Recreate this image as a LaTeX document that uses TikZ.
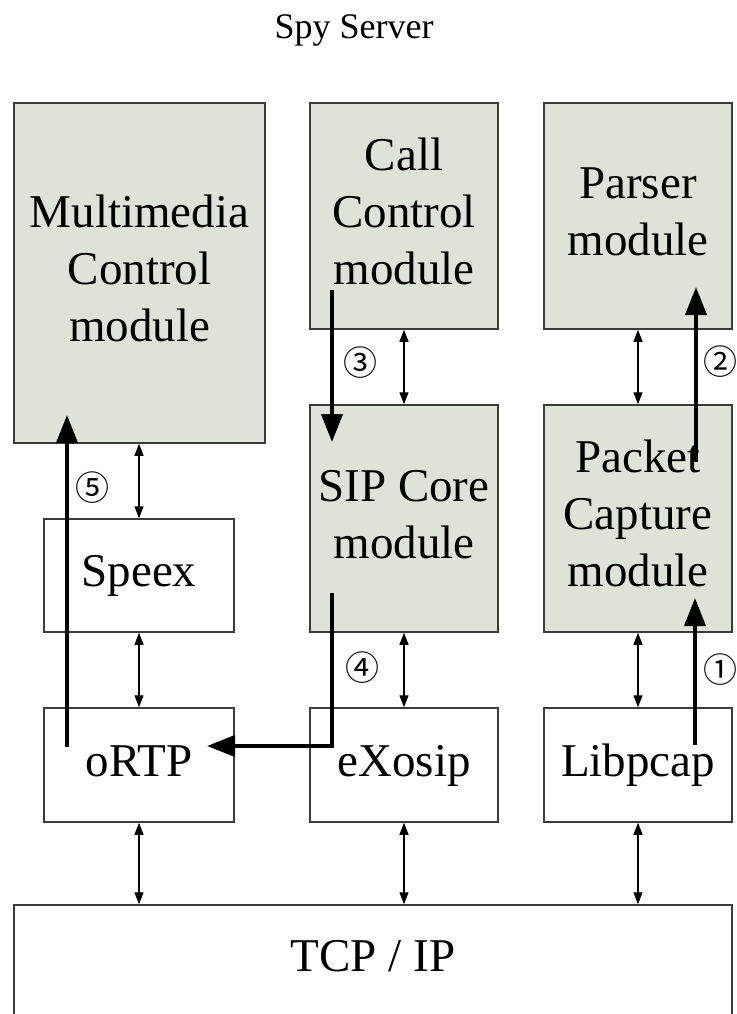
\documentclass[tikz,border=0pt]{standalone}
\usepackage{fontspec}
\setmainfont{Liberation Serif}
\newfontfamily\circfont{Noto Sans CJK SC}
\usetikzlibrary{arrows.meta}
\definecolor{modfill}{RGB}{221,227,214}
\definecolor{edgegray}{RGB}{60,60,60}
\begin{document}
\begin{tikzpicture}[x=1pt,y=-1pt,
  modbox/.style={draw=edgegray,line width=1.5pt,fill=modfill,inner sep=0pt,align=center,
    font=\fontsize{47}{57}\selectfont},
  libbox/.style={draw=edgegray,line width=1.5pt,fill=white,inner sep=0pt,align=center,
    font=\fontsize{47}{57}\selectfont},
  bi/.style={line width=1.2pt,{Triangle[length=12pt,width=9pt]}-{Triangle[length=12pt,width=9pt]}},
  flow/.style={line width=4pt,-{Triangle[length=28pt,width=21pt]}},
  num/.style={font=\circfont\fontsize{34}{34}\selectfont,inner sep=0pt}]
\useasboundingbox (0,0) rectangle (736,1014);
% modules
\node[modbox,minimum width=251pt,minimum height=340pt] (mm) at (139.5,273) {\strut Multimedia\\\strut Control\\\strut module};
\node[modbox,minimum width=188pt,minimum height=226pt] (cc) at (404,216) {\strut Call\\\strut Control\\\strut module};
\node[modbox,minimum width=188pt,minimum height=226pt] (ps) at (638,216) {\strut Parser\\\strut module};
\node[modbox,minimum width=188pt,minimum height=227pt] (sip) at (404,518.5) {\strut SIP Core\\\strut module};
\node[modbox,minimum width=188pt,minimum height=227pt] (pc) at (638,518.5) {\strut Packet\\\strut Capture\\\strut module};
% libraries
\node[libbox,minimum width=190pt,minimum height=113pt] (speex) at (139,575.5) {\strut Speex};
\node[libbox,minimum width=190pt,minimum height=114pt] (ortp) at (139,765) {\strut oRTP};
\node[libbox,minimum width=188pt,minimum height=114pt] (exo) at (404,765) {\strut eXosip};
\node[libbox,minimum width=188pt,minimum height=114pt] (pcap) at (638,765) {\strut Libpcap};
\node[libbox,minimum width=718pt,minimum height=110pt] (tcp) at (373,960) {\strut TCP / IP};
% title
\node[font=\fontsize{36}{40}\selectfont,inner sep=0pt] (title) at (354,30) {Spy Server};
% bidirectional arrows
\draw[bi] (mm.south -| speex.north) -- (speex.north);
\draw[bi] (speex.south) -- (ortp.north);
\draw[bi] (ortp.south) -- (tcp.north -| ortp.south);
\draw[bi] (cc.south) -- (sip.north);
\draw[bi] (sip.south) -- (exo.north);
\draw[bi] (exo.south) -- (tcp.north -| exo.south);
\draw[bi] (ps.south) -- (pc.north);
\draw[bi] (pc.south) -- (pcap.north);
\draw[bi] (pcap.south) -- (tcp.north -| pcap.south);
% flow coordinates
\coordinate (f1s) at (695,745);
\coordinate (f1e) at (695,598);
\coordinate (f2s) at (696,462);
\coordinate (f2e) at (696,287);
\coordinate (f3s) at (332,290);
\coordinate (f3e) at (332,442);
\coordinate (f4s) at (332,593);
\coordinate (f4c) at (332,746);
\coordinate (f4e) at (207,746);
\coordinate (f5s) at (67,747);
\coordinate (f5e) at (67,415);
\draw[flow] (f1s) -- (f1e);
\draw[flow] (f2s) -- (f2e);
\draw[flow] (f3s) -- (f3e);
\draw[flow,line join=miter] (f4s) -- (f4c) -- (f4e);
\draw[flow] (f5s) -- (f5e);
% step numbers
\node[num] (n1) at (720,670) {①};
\node[num] (n2) at (720,362) {②};
\node[num] (n3) at (360,363) {③};
\node[num] (n4) at (362,668) {④};
\node[num] (n5) at (92,488) {⑤};
\end{tikzpicture}
\end{document}
